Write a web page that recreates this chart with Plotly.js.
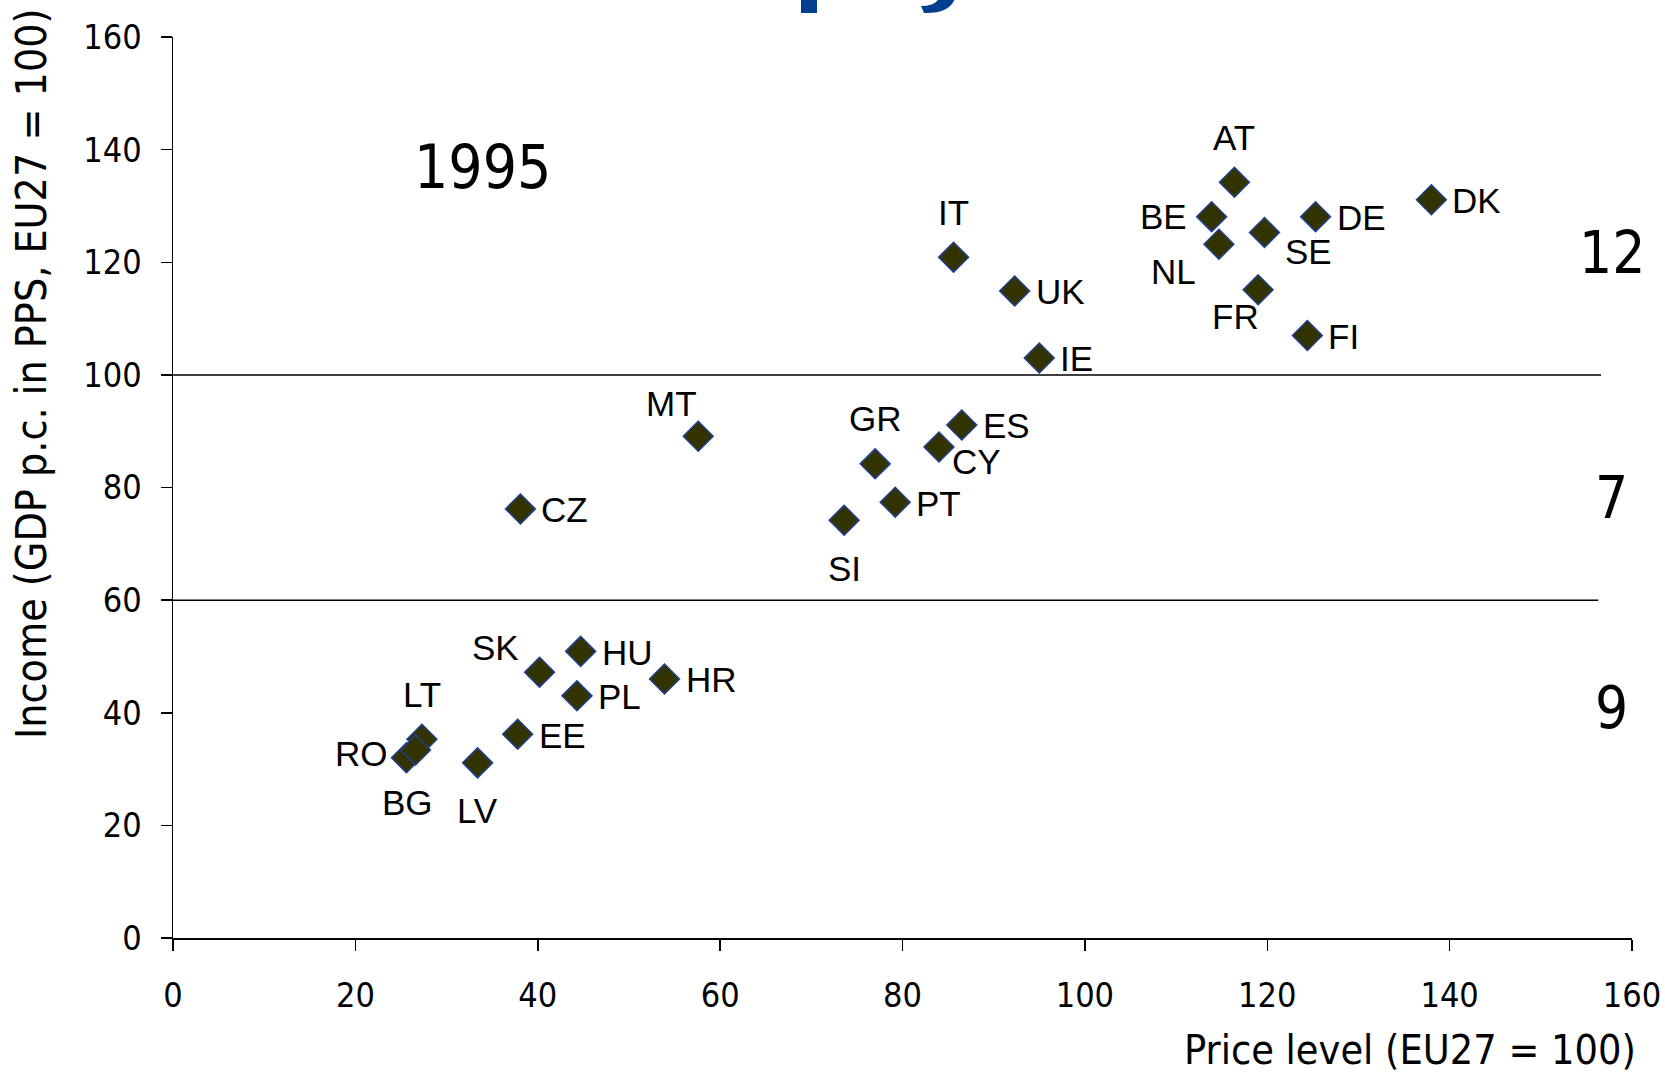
<!DOCTYPE html>
<html>
<head>
<meta charset="utf-8">
<script src="https://cdn.plot.ly/plotly-3.0.1.min.js"></script>
<style>
  html, body { margin: 0; padding: 0; background: #ffffff; }
  #chart { width: 1665px; height: 1075px; }
</style>
</head>
<body>
<div id="chart"></div>
<script>
// ---- Data ----
const countries  = ["AT","BE","NL","SE","DE","DK","FR","FI","IT","UK","IE",
                    "MT","GR","ES","CY","PT","SI","CZ",
                    "SK","HU","PL","HR","EE","LV","LT","RO","BG"];
const priceLevel = [116.4,113.9,114.7,119.7,125.3,138.0,119.0,124.4,85.6,92.3,95.0,
                    57.6,77.0,86.5,84.0,79.2,73.6,38.1,
                    40.2,44.7,44.3,53.9,37.8,33.4,27.3,25.6,26.6];
const income     = [134.2,128.1,123.2,125.3,128.1,131.1,115.1,107.0,120.9,114.9,103.0,
                    89.1,84.2,91.1,87.2,77.4,74.2,76.2,
                    47.2,50.9,43.0,46.0,36.2,31.1,35.3,32.0,33.4];
const yearLabel  = "1995";
const bandLimits = [60, 100];
const bandCounts = ["12", "7", "9"];
const xTitle = "Price level (EU27 = 100)";
const yTitle = "Income (GDP p.c. in PPS, EU27 = 100)";

// ---- Label placement (style only) ----
const labelPos = {AT:"t",BE:"l",NL:"bl",SE:"br",DE:"r",DK:"r",FR:"fr",FI:"r",IT:"t",UK:"r",IE:"r",
                  MT:"mt",GR:"t",ES:"r",CY:"cy",PT:"r",SI:"b",CZ:"r",
                  SK:"tl",HU:"r",PL:"r",HR:"r",EE:"r",LV:"b",LT:"t",RO:"ro",BG:"bg"};
const placements = {
  r:  {xanchor:"left",   xshift:19,  yshift:-1},
  l:  {xanchor:"right",  xshift:-23, yshift:0},
  t:  {xanchor:"center", xshift:0,   yshift:45},
  b:  {xanchor:"center", xshift:0,   yshift:-48},
  br: {xanchor:"center", xshift:44,  yshift:-19},
  bl: {xanchor:"center", xshift:-45, yshift:-27},
  tl: {xanchor:"center", xshift:-44, yshift:25},
  fr: {xanchor:"center", xshift:-23, yshift:-27},
  mt: {xanchor:"center", xshift:-27, yshift:33},
  cy: {xanchor:"center", xshift:38,  yshift:-15},
  ro: {xanchor:"right",  xshift:-16, yshift:4},
  bg: {xanchor:"center", xshift:-8,  yshift:-53}
};

const labelFont = {family:"Liberation Sans, Arial, sans-serif", size:35, color:"#000000"};
const tahoma = "DejaVu Sans Condensed, DejaVu Sans, sans-serif";

const annotations = countries.map((c, i) => {
  const p = placements[labelPos[c]];
  return {
    x: priceLevel[i], y: income[i], xref:"x", yref:"y",
    text: c, showarrow:false, font: labelFont,
    xanchor: p.xanchor, yanchor:"middle", xshift: p.xshift, yshift: p.yshift
  };
});

annotations.push({x:33.9, y:137, xref:"x", yref:"y", text:yearLabel, showarrow:false,
  font:{family:tahoma, size:60, color:"#000"}, xanchor:"center", yanchor:"middle"});
const bandY = [121.7, 78.1, 40.8];
bandCounts.forEach((t, i) => annotations.push({x:157.8, y:bandY[i], xref:"x", yref:"y", text:t,
  showarrow:false, font:{family:tahoma, size:58, color:"#000"}, xanchor:"center", yanchor:"middle"}));

annotations.push({x:1, y:0, xref:"paper", yref:"paper", text:xTitle, showarrow:false,
  font:{family:tahoma, size:41, color:"#000"}, xanchor:"right", yanchor:"middle", xshift:6, yshift:-112});
annotations.push({x:0, y:0.626, xref:"paper", yref:"paper", text:yTitle, showarrow:false, textangle:-90,
  font:{family:tahoma, size:42.5, color:"#000"}, xanchor:"center", yanchor:"middle", xshift:-141});

const shapes = bandLimits.map((v, i) => ({
  type:"line", xref:"x", yref:"y", x0:0, x1:[156.3, 156.6][i], y0:v, y1:v,
  line:{color:"#000000", width:1.5}
}));
// fragments of the cut-off blue heading at the top edge
shapes.push({type:"rect", xref:"paper", yref:"paper",
  x0:(801-173)/1459, x1:(817-173)/1459, y0:(938-13)/901, y1:(938+5)/901,
  fillcolor:"#003f8f", line:{width:0}});
shapes.push({type:"path", xref:"paper", yref:"paper",
  path:"M " + (940-173)/1459 + "," + (938+5)/901 +
       " L " + (956-173)/1459 + "," + (938+5)/901 +
       " Q " + (952-173)/1459 + "," + (938-14)/901 + " " + (924-173)/1459 + "," + (938-13)/901 +
       " L " + (921-173)/1459 + "," + (938-6)/901 +
       " Q " + (938-173)/1459 + "," + (938-6)/901 + " " + (940-173)/1459 + "," + (938+5)/901 + " Z",
  fillcolor:"#003f8f", line:{width:0}});

const trace = {
  type:"scatter", mode:"markers",
  x: priceLevel, y: income, text: countries,
  marker:{symbol:"diamond", size:23, color:"#333300", line:{color:"#1f3f8f", width:1.5}},
  hoverinfo:"text+x+y", cliponaxis:false
};

const axisCommon = {
  range:[0,160], dtick:20, tick0:0, showgrid:false, zeroline:false,
  showline:true, linecolor:"#000", linewidth:1.5,
  ticks:"outside", ticklen:11, tickwidth:1.5, tickcolor:"#000",
  tickfont:{family:tahoma, size:34, color:"#000"}
};

const layout = {
  width:1665, height:1075,
  margin:{l:173, r:33, t:37, b:137, pad:0},
  paper_bgcolor:"#ffffff", plot_bgcolor:"#ffffff",
  showlegend:false,
  xaxis: Object.assign({}, axisCommon, {ticklabelstandoff:16}),
  yaxis: Object.assign({}, axisCommon, {ticklabelstandoff:12}),
  annotations: annotations,
  shapes: shapes
};

Plotly.newPlot("chart", [trace], layout, {staticPlot:true, displayModeBar:false});
</script>
</body>
</html>
